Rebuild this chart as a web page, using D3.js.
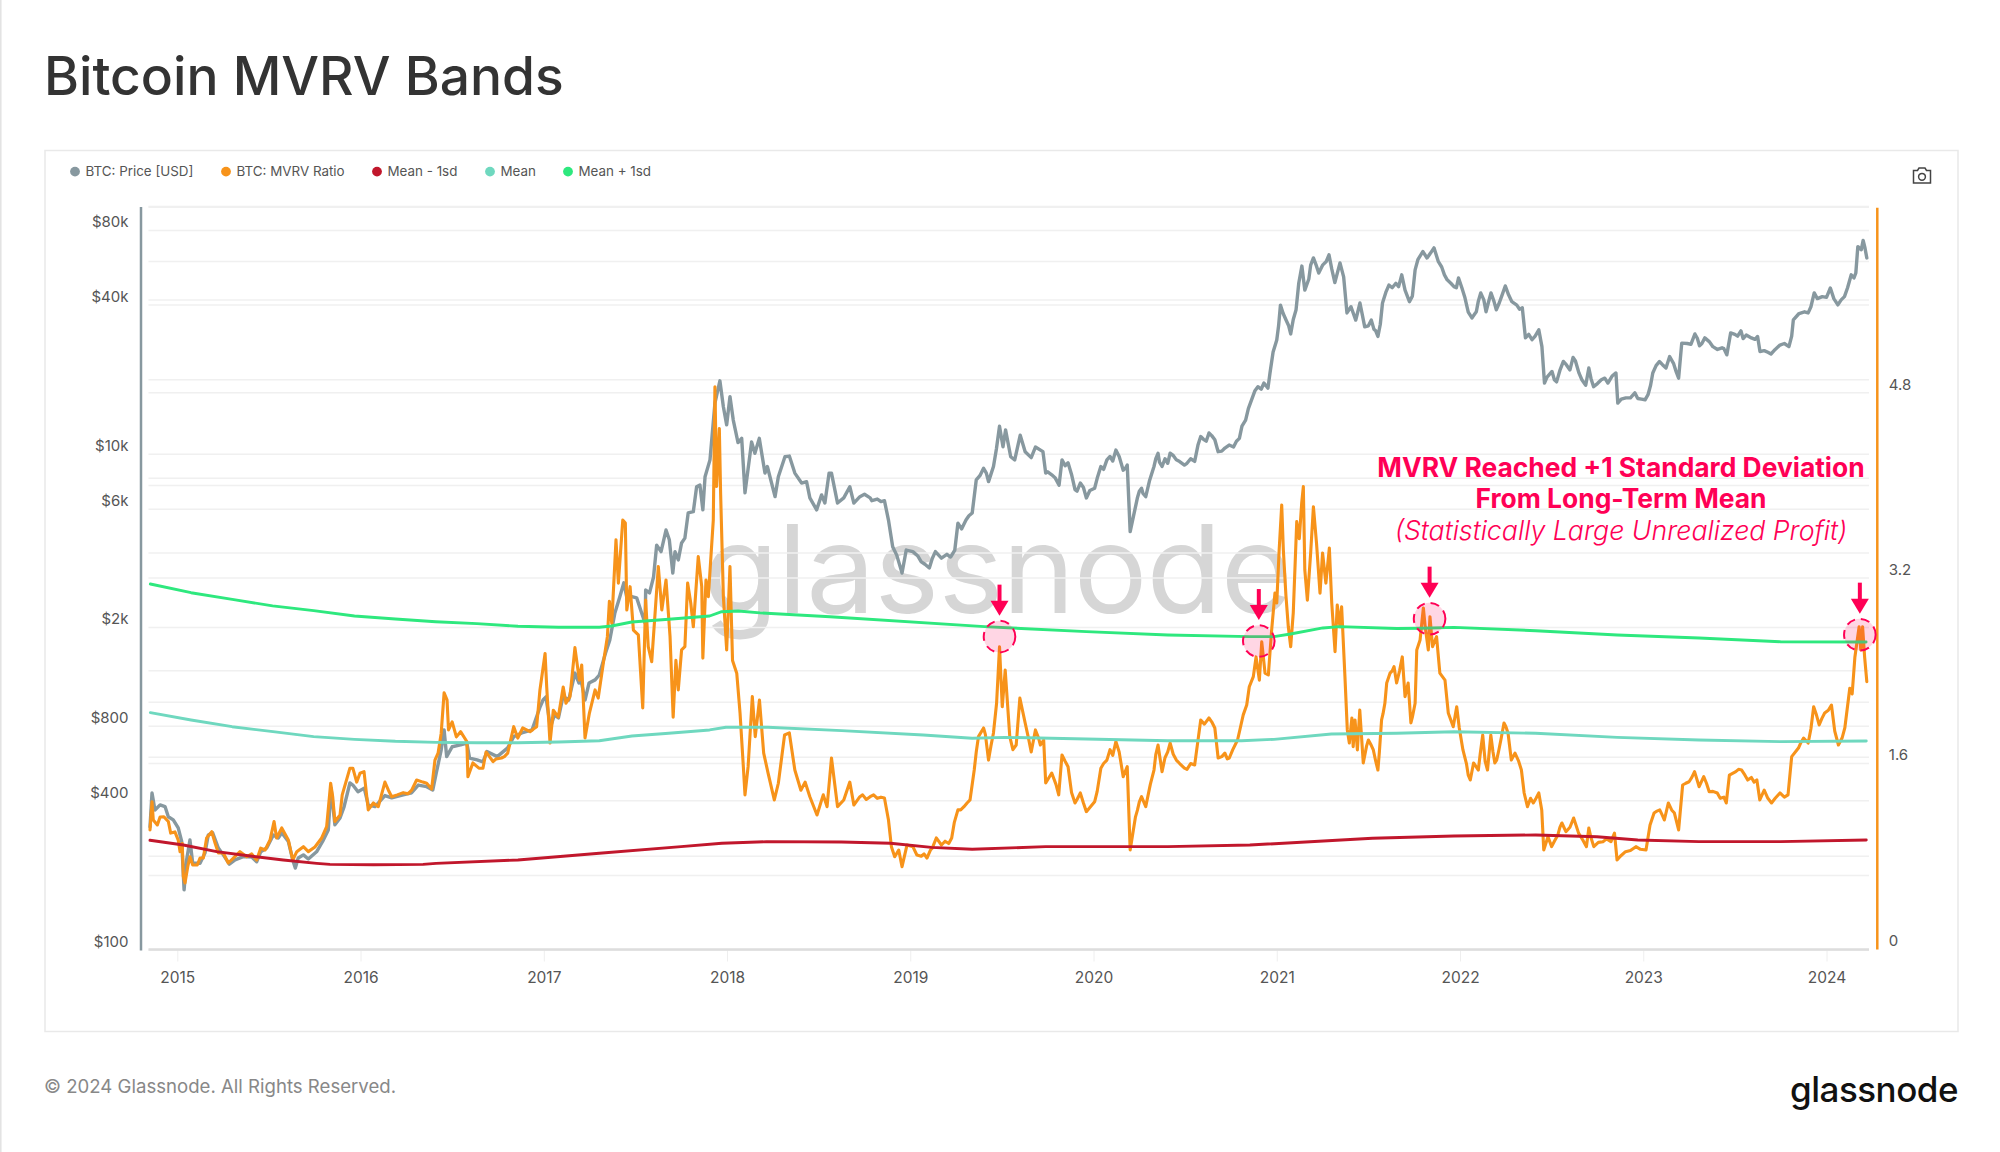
<!DOCTYPE html>
<html>
<head>
<meta charset="utf-8">
<title>Bitcoin MVRV Bands</title>
<script src="https://cdn.jsdelivr.net/npm/d3@7"></script>
<style>
html, body { margin: 0; padding: 0; background: #fff; }
svg { display: block; font-family: Inter, "Noto Sans", sans-serif; }
</style>
</head>
<body>
<svg id="chart" width="2000" height="1152"></svg>
<script>
// decimal years
var priceYears = [2014.851,2014.862,2014.878,2014.906,2014.933,2014.951,2014.978,2015.005,2015.024,2015.037,2015.051,2015.069,2015.084,2015.124,2015.151,2015.169,2015.193,2015.224,2015.251,2015.284,2015.315,2015.36,2015.406,2015.433,2015.455,2015.488,2015.524,2015.551,2015.57,2015.606,2015.63,2015.644,2015.66,2015.688,2015.715,2015.76,2015.793,2015.824,2015.839,2015.86,2015.888,2015.91,2015.942,2015.958,2015.986,2016.02,2016.042,2016.079,2016.133,2016.17,2016.233,2016.279,2016.315,2016.361,2016.394,2016.413,2016.44,2016.456,2016.47,2016.5,2016.546,2016.58,2016.595,2016.636,2016.668,2016.69,2016.746,2016.803,2016.836,2016.88,2016.936,2016.98,2016.996,2017.012,2017.036,2017.058,2017.08,2017.105,2017.136,2017.17,2017.192,2017.203,2017.225,2017.247,2017.28,2017.303,2017.337,2017.36,2017.388,2017.415,2017.437,2017.456,2017.48,2017.507,2017.534,2017.553,2017.556,2017.577,2017.599,2017.616,2017.64,2017.667,2017.685,2017.704,2017.716,2017.734,2017.752,2017.77,2017.788,2017.816,2017.834,2017.852,2017.868,2017.88,2017.907,2017.934,2017.961,2017.98,2017.998,2018.016,2018.034,2018.06,2018.08,2018.098,2018.134,2018.152,2018.176,2018.207,2018.22,2018.262,2018.28,2018.316,2018.34,2018.37,2018.407,2018.434,2018.452,2018.489,2018.516,2018.534,2018.557,2018.57,2018.603,2018.637,2018.67,2018.692,2018.725,2018.781,2018.859,2018.881,2018.904,2018.926,2018.955,2018.978,2019.014,2019.06,2019.104,2019.137,2019.17,2019.243,2019.26,2019.304,2019.338,2019.36,2019.4,2019.427,2019.454,2019.487,2019.506,2019.52,2019.548,2019.57,2019.6,2019.627,2019.66,2019.683,2019.724,2019.739,2019.772,2019.812,2019.828,2019.861,2019.899,2019.928,2019.961,2020.006,2020.04,2020.073,2020.122,2020.162,2020.184,2020.2,2020.229,2020.262,2020.285,2020.33,2020.352,2020.374,2020.418,2020.452,2020.496,2020.552,2020.585,2020.63,2020.662,2020.68,2020.717,2020.764,2020.796,2020.83,2020.862,2020.897,2020.93,2020.952,2020.963,2020.98,2021.0,2021.02,2021.05,2021.076,2021.105,2021.137,2021.153,2021.2,2021.229,2021.285,2021.317,2021.345,2021.365,2021.383,2021.405,2021.431,2021.454,2021.48,2021.516,2021.552,2021.577,2021.612,2021.682,2021.7,2021.724,2021.755,2021.797,2021.858,2021.882,2021.93,2021.967,2021.992,2022.027,2022.065,2022.089,2022.113,2022.142,2022.169,2022.198,2022.247,2022.283,2022.34,2022.357,2022.393,2022.43,2022.447,2022.461,2022.502,2022.527,2022.564,2022.617,2022.649,2022.686,2022.703,2022.729,2022.771,2022.807,2022.851,2022.861,2022.905,2022.954,2022.99,2023.026,2023.052,2023.088,2023.124,2023.144,2023.193,2023.21,2023.282,2023.307,2023.336,2023.38,2023.43,2023.456,2023.477,2023.533,2023.562,2023.624,2023.637,2023.697,2023.746,2023.795,2023.819,2023.88,2023.915,2023.933,2023.977,2024.021,2024.062,2024.098,2024.135,2024.16,2024.171,2024.2,2024.22];
var priceUsd = [314,430,367,385,379,345,335,311,274,175,231,278,224,224,246,291,297,258,242,222,231,238,237,227,249,258,291,283,297,274,231,214,235,242,233,249,274,305,450,320,341,378,472,463,435,450,385,379,420,411,423,431,463,456,442,517,641,773,603,661,672,684,595,585,574,632,603,654,726,751,773,958,1020,1050,790,888,864,1055,1020,1310,1195,1230,1020,1195,1230,1287,1580,1780,2290,2665,3030,2580,2665,2635,2290,2085,2835,2760,3200,4300,4050,4950,4520,3320,4050,3750,4390,4590,5800,5870,7400,7520,5970,8120,9500,16100,19800,15550,13150,17100,13750,11150,11600,6990,11220,10100,11600,8400,8930,6750,8120,9780,9840,8400,7660,7760,6670,5970,6860,6360,8400,8400,6360,6670,7400,6360,6750,6670,6500,5430,4240,3920,3320,4110,4050,3680,3480,4050,3810,4110,5270,5430,5800,7880,8790,7760,8930,12990,10730,12550,9780,9500,11950,10250,9700,10700,10250,8400,8270,7510,9500,9240,7200,7660,6670,7300,8930,9500,10400,8630,9050,4880,6140,7300,6750,8930,10100,8930,10100,9500,9050,9370,11800,12200,11450,10250,10600,10700,11600,13750,16550,18750,19400,18500,21300,25900,28950,40000,34900,30600,38200,57500,46000,62000,53900,63800,49300,59200,52000,37200,39400,34800,40800,32700,34800,29900,40800,48200,53000,46000,41300,55500,65800,68100,59900,50600,47500,51500,42800,35500,37600,44800,37600,44800,38300,47800,41300,39000,29500,29000,31800,27200,19400,21600,19600,23700,24600,21300,19000,22300,18750,20000,19400,21300,16100,16900,17700,16700,17400,21300,23700,22300,24800,20300,28100,30600,27400,29500,27200,26900,25200,30900,31500,30300,29900,26000,25400,27600,27200,34900,37600,39400,44800,43300,46900,40100,43300,53000,53900,68900,73000,62000];
// second pass over the picture, the smaller swings between the points above
var priceYearsFine = [2018.75,2018.79,2018.82,2018.84,2019.04,2019.08,2019.12,2019.2,2019.22,2019.28,2019.32,2019.38,2019.415,2019.44,2019.47,2019.75,2019.79,2019.845,2019.88,2019.91,2019.945,2019.98,2020.02,2020.055,2020.09,2020.105,2020.14,2020.175,2020.24,2020.25,2020.27,2020.305,2020.34,2020.36,2020.39,2020.405,2020.435,2020.47,2020.51,2020.53,2020.57,2020.6,2020.615,2020.645,2020.7,2020.74,2020.78,2020.81,2020.845,2020.88,2020.915,2021.01,2021.035,2021.065,2021.09,2021.12,2021.175,2021.185,2021.215,2021.25,2021.27,2021.3,2021.5,2021.53,2021.54,2021.565,2021.595,2021.63,2021.65,2021.665,2021.74,2021.77,2021.82,2021.84,2021.9,2021.915,2021.95,2021.98,2022.01,2022.045,2022.08,2022.1,2022.13,2022.155,2022.185,2022.215,2022.23,2022.265,2022.31,2022.325,2022.375,2022.41,2022.475,2022.515,2022.545,2022.58,2022.6,2022.63,2022.665,2022.715,2022.75,2022.79,2022.83,2022.88,2022.93,2022.97,2023.01,2023.04,2023.07,2023.105,2023.165,2023.18,2023.24,2023.26,2023.295,2023.32,2023.36,2023.405,2023.44,2023.5,2023.515,2023.545,2023.59,2023.61,2023.66,2023.68,2023.72,2023.77,2023.81,2023.85,2023.9,2023.95,2024.0,2024.04,2024.08,2024.115,2024.15,2024.19,2024.21];
var priceUsdFine = [6900,6500,6600,6450,3900,3600,3800,3950,3850,5000,5650,8200,8400,8300,10500,8500,8050,9000,8300,7100,7350,7150,8000,8700,9800,9400,9800,8800,6700,7100,6950,7800,9600,9300,9600,9200,9900,9350,9200,9600,10900,11500,11300,11900,10300,10900,11300,13000,15300,18000,18300,33000,37000,33000,35000,49000,51000,58000,58000,58000,60000,56000,33000,32000,31500,33500,45000,47000,49000,47500,43500,61000,62000,65000,57000,53000,49000,47000,47000,37500,36800,41500,42000,41000,41500,41000,44000,44000,40000,38500,30500,30000,20500,20000,21800,23000,21900,23800,20000,20200,19300,20300,20700,16700,16900,16800,16600,19000,22800,23000,23300,21500,28000,27800,29400,28000,28500,26500,26700,30500,30000,29300,29500,29100,26200,25800,26500,28000,30000,37000,37200,42500,43000,42500,42000,47000,51500,67000,68000];

var mvrvYears = [2014.851,2014.862,2014.869,2014.891,2014.906,2014.927,2014.951,2014.964,2014.987,2015.005,2015.015,2015.027,2015.033,2015.042,2015.057,2015.069,2015.084,2015.109,2015.124,2015.142,2015.16,2015.188,2015.206,2015.224,2015.251,2015.278,2015.306,2015.342,2015.379,2015.406,2015.433,2015.455,2015.479,2015.506,2015.528,2015.542,2015.57,2015.606,2015.63,2015.652,2015.688,2015.715,2015.751,2015.788,2015.815,2015.837,2015.848,2015.86,2015.888,2015.9,2015.942,2015.958,2015.979,2015.997,2016.019,2016.042,2016.07,2016.097,2016.133,2016.152,2016.17,2016.233,2016.279,2016.306,2016.361,2016.388,2016.406,2016.423,2016.44,2016.456,2016.472,2016.48,2016.5,2016.523,2016.546,2016.58,2016.586,2016.613,2016.646,2016.668,2016.685,2016.723,2016.769,2016.803,2016.836,2016.858,2016.885,2016.925,2016.961,2016.979,2017.007,2017.016,2017.034,2017.052,2017.079,2017.106,2017.121,2017.143,2017.17,2017.194,2017.207,2017.225,2017.249,2017.28,2017.297,2017.325,2017.347,2017.358,2017.371,2017.394,2017.407,2017.431,2017.445,2017.453,2017.471,2017.489,2017.516,2017.54,2017.556,2017.57,2017.589,2017.625,2017.644,2017.667,2017.689,2017.706,2017.721,2017.734,2017.752,2017.77,2017.785,2017.802,2017.816,2017.843,2017.862,2017.868,2017.885,2017.898,2017.925,2017.934,2017.943,2017.958,2017.965,2017.98,2017.998,2018.016,2018.03,2018.053,2018.071,2018.089,2018.098,2018.115,2018.138,2018.154,2018.177,2018.2,2018.224,2018.258,2018.28,2018.314,2018.34,2018.37,2018.403,2018.426,2018.452,2018.491,2018.525,2018.546,2018.57,2018.603,2018.637,2018.67,2018.692,2018.725,2018.781,2018.859,2018.881,2018.897,2018.915,2018.937,2018.955,2018.982,2019.014,2019.036,2019.091,2019.11,2019.142,2019.17,2019.226,2019.26,2019.293,2019.326,2019.349,2019.372,2019.4,2019.427,2019.454,2019.471,2019.487,2019.502,2019.518,2019.543,2019.578,2019.598,2019.627,2019.66,2019.683,2019.728,2019.739,2019.772,2019.81,2019.828,2019.861,2019.899,2019.928,2019.961,2020.006,2020.04,2020.073,2020.122,2020.162,2020.184,2020.2,2020.229,2020.262,2020.285,2020.33,2020.352,2020.374,2020.418,2020.452,2020.496,2020.552,2020.585,2020.63,2020.662,2020.68,2020.717,2020.741,2020.786,2020.817,2020.836,2020.85,2020.872,2020.887,2020.905,2020.918,2020.936,2020.954,2020.972,2020.99,2021.0,2021.013,2021.027,2021.036,2021.05,2021.063,2021.076,2021.09,2021.109,2021.123,2021.136,2021.145,2021.153,2021.167,2021.185,2021.2,2021.217,2021.236,2021.25,2021.268,2021.287,2021.3,2021.318,2021.33,2021.345,2021.354,2021.372,2021.385,2021.396,2021.41,2021.417,2021.427,2021.44,2021.453,2021.472,2021.5,2021.527,2021.552,2021.572,2021.59,2021.6,2021.618,2021.64,2021.654,2021.685,2021.7,2021.717,2021.732,2021.755,2021.764,2021.782,2021.8,2021.81,2021.827,2021.836,2021.85,2021.872,2021.89,2021.918,2021.936,2021.963,2021.982,2021.996,2022.016,2022.056,2022.074,2022.1,2022.124,2022.15,2022.168,2022.19,2022.212,2022.24,2022.262,2022.28,2022.3,2022.335,2022.35,2022.368,2022.4,2022.43,2022.446,2022.457,2022.48,2022.5,2022.534,2022.556,2022.578,2022.62,2022.647,2022.69,2022.703,2022.73,2022.78,2022.824,2022.843,2022.857,2022.903,2022.96,2023.015,2023.037,2023.059,2023.09,2023.115,2023.137,2023.17,2023.193,2023.215,2023.25,2023.28,2023.305,2023.33,2023.36,2023.404,2023.453,2023.47,2023.505,2023.537,2023.57,2023.62,2023.636,2023.66,2023.7,2023.746,2023.79,2023.81,2023.847,2023.875,2023.9,2023.93,2023.96,2023.99,2024.027,2024.065,2024.1,2024.127,2024.155,2024.178,2024.187,2024.197,2024.208,2024.22];
var mvrvRatio = [1.027,1.27,1.113,1.07,1.139,1.14,1.10,1.0,1.01,.94,.84,.91,.624,.57,.71,.796,.725,.725,.785,.785,.958,1.012,.914,.828,.828,.742,.785,.84,.796,.82,.768,.87,.854,.94,1.10,.958,1.044,.94,.768,.84,.883,.84,.88,.958,1.055,1.43,1.314,1.1,1.156,1.33,1.56,1.56,1.44,1.516,1.53,1.2,1.26,1.228,1.44,1.37,1.314,1.349,1.37,1.458,1.43,1.38,1.63,1.69,1.86,2.21,2.15,1.89,1.96,1.83,1.875,1.79,1.487,1.605,1.56,1.56,1.70,1.616,1.648,1.69,1.918,1.82,1.907,1.875,1.918,2.235,2.55,2.26,1.777,2.06,2.0,2.26,2.12,2.177,2.6,2.32,2.45,1.82,2.036,2.235,2.165,2.467,2.695,3.0,2.81,3.53,3.157,3.70,3.675,2.925,3.126,2.752,2.71,2.08,3.01,2.608,2.479,3.3,2.925,3.184,2.695,2.0,2.49,2.235,2.58,2.608,3.157,2.985,2.78,3.385,3.126,2.51,3.184,3.04,3.7,4.85,3.99,4.49,3.93,3.04,2.58,3.3,2.49,2.38,2.036,1.573,1.33,1.573,2.177,1.832,2.148,1.69,1.518,1.286,1.43,1.846,1.864,1.544,1.37,1.44,1.314,1.156,1.33,1.228,1.648,1.228,1.286,1.44,1.242,1.314,1.314,1.303,1.113,.883,.796,.854,.71,.897,.883,.811,.785,.854,.958,.897,.958,1.2,1.228,1.286,1.544,1.832,1.907,1.63,1.864,2.12,2.608,2.09,2.407,1.832,1.76,2.165,1.95,1.70,1.89,1.803,1.432,1.518,1.33,1.674,1.573,1.26,1.346,1.185,1.27,1.56,1.63,1.79,1.487,1.573,.854,1.14,1.314,1.228,1.544,1.76,1.53,1.777,1.63,1.56,1.588,1.976,1.993,1.907,1.648,1.69,1.648,1.803,2.02,2.105,2.263,2.35,2.52,2.32,2.65,2.38,2.364,2.75,3.07,2.985,3.44,3.83,3.44,3.05,2.78,2.608,2.9,3.687,3.54,3.847,3.99,3.27,3.01,3.417,3.816,3.5,3.07,3.417,3.157,3.46,2.985,2.565,2.968,2.78,2.953,2.35,1.89,1.777,1.993,1.745,1.976,1.717,2.062,1.605,1.803,1.717,1.544,1.976,2.12,2.295,2.38,2.436,2.295,2.52,2.177,2.295,1.95,2.12,2.58,2.666,2.942,2.78,2.58,2.867,2.608,2.695,2.38,2.32,2.036,1.918,2.09,1.907,1.717,1.458,1.605,1.544,1.846,1.544,1.846,1.605,1.717,1.95,1.864,1.63,1.69,1.544,1.346,1.228,1.26,1.346,1.2,.854,.969,.883,.984,1.087,1.012,1.13,1.0,.883,1.044,.883,.926,.926,1.0,.768,.84,.883,.854,1.07,1.173,1.2,1.113,1.26,1.173,1.027,1.415,1.443,1.53,1.4,1.487,1.357,1.346,1.26,1.5,1.53,1.544,1.458,1.458,1.286,1.37,1.26,1.346,1.33,1.66,1.734,1.82,1.777,2.09,1.933,2.036,2.105,1.76,1.907,2.25,2.52,2.78,2.58,2.78,2.52,2.306];
var mvrvYearsFine = [2016.2,2016.26,2016.34,2016.74,2016.785,2016.945,2018.74,2018.76,2018.8,2018.82,2018.84,2019.06,2019.075,2019.12,2019.19,2019.21,2019.24,2019.275,2019.31,2019.36,2019.41,2019.44,2019.56,2019.645,2019.7,2019.71,2019.795,2019.845,2019.88,2019.91,2019.945,2019.98,2020.02,2020.055,2020.09,2020.105,2020.14,2020.24,2020.25,2020.31,2020.34,2020.39,2020.405,2020.435,2020.47,2020.51,2020.53,2020.57,2020.605,2020.645,2020.7,2020.73,2020.76,2020.8,2021.49,2021.515,2021.54,2021.56,2021.58,2021.63,2021.67,2021.74,2022.035,2022.045,2022.085,2022.11,2022.137,2022.18,2022.2,2022.225,2022.25,2022.32,2022.385,2022.415,2022.515,2022.545,2022.6,2022.635,2022.67,2022.715,2022.755,2022.8,2022.875,2022.93,2022.985,2023.075,2023.105,2023.155,2023.232,2023.265,2023.345,2023.38,2023.42,2023.44,2023.52,2023.555,2023.59,2023.605,2023.68,2023.72,2023.77,2023.86,2023.915,2023.945,2023.975,2024.01,2024.045,2024.085,2024.14];
var mvrvRatioFine = [1.33,1.34,1.44,1.64,1.66,1.9,1.33,1.29,1.33,1.3,1.31,.80,.82,.87,.93,.91,1.09,1.2,1.26,1.7,1.85,1.75,1.72,1.82,1.82,1.76,1.42,1.62,1.35,1.29,1.26,1.22,1.36,1.6,1.72,1.67,1.7,1.2,1.27,1.42,1.68,1.65,1.7,1.68,1.6,1.55,1.6,1.8,1.94,1.96,1.66,1.64,1.72,1.9,1.75,1.76,1.62,1.7,2.03,2.4,2.4,2.0,1.6,1.5,1.58,1.68,1.62,1.7,1.63,1.82,1.92,1.62,1.3,1.3,.93,1.05,1.05,1.06,.94,.96,.92,.95,.8,.85,.86,1.19,1.15,1.2,1.43,1.48,1.43,1.36,1.3,1.31,1.55,1.5,1.48,1.44,1.3,1.3,1.31,1.78,1.9,2.02,1.99,2.06,1.88,1.82,2.2];

var lowerYears = [2014.851,2015.033,2015.215,2015.397,2015.578,2015.761,2015.833,2016.07,2016.341,2016.412,2016.859,2017.303,2017.749,2017.972,2018.216,2018.625,2018.892,2019.115,2019.338,2019.739,2020.406,2020.853,2021.522,2021.967,2022.413,2022.747,2022.97,2023.304,2023.749,2024.217];
var lowerBand = [.938,.897,.84,.802,.768,.739,.73,.727,.73,.739,.768,.826,.883,.912,.926,.923,.912,.877,.86,.883,.883,.897,.955,.975,.984,.969,.94,.926,.926,.94];

var meanYears = [2014.853,2015.075,2015.299,2015.522,2015.744,2015.967,2016.19,2016.412,2016.635,2016.859,2017.081,2017.303,2017.481,2017.682,2017.905,2017.994,2018.222,2018.625,2019.071,2019.338,2019.517,2019.961,2020.406,2020.808,2020.985,2021.298,2021.654,2021.967,2022.413,2022.858,2023.304,2023.749,2024.217];
var meanBand = [2.039,1.976,1.918,1.875,1.832,1.809,1.792,1.783,1.78,1.78,1.786,1.797,1.838,1.861,1.89,1.913,1.913,1.884,1.846,1.818,1.826,1.812,1.797,1.797,1.809,1.855,1.861,1.875,1.861,1.826,1.803,1.789,1.795];

var upperYears = [2014.853,2015.075,2015.3,2015.52,2015.744,2015.967,2016.19,2016.41,2016.635,2016.859,2017.08,2017.303,2017.37,2017.48,2017.682,2017.905,2017.971,2018.06,2018.18,2018.562,2019.405,2019.961,2020.406,2020.853,2020.985,2021.075,2021.252,2021.342,2021.654,2021.789,2021.967,2022.413,2022.858,2023.305,2023.749,2024.216];
var upperBand = [3.149,3.074,3.017,2.96,2.919,2.873,2.847,2.824,2.807,2.784,2.776,2.776,2.787,2.821,2.845,2.873,2.91,2.916,2.9,2.867,2.781,2.738,2.709,2.695,2.695,2.718,2.77,2.781,2.765,2.767,2.775,2.746,2.709,2.683,2.651,2.649];

var peakYears = [2019.487,2020.902,2021.834,2024.182];
var peakRatio = [2.695,2.657,2.85,2.712];

var yearTicks = [2015,2016,2017,2018,2019,2020,2021,2022,2023,2024];
var priceGrid = [100,200,400,600,800,1000,2000,4000,6000,8000,10000,20000,40000,60000,80000,100000];
var priceTicks = [100,400,800,2000,6000,10000,40000,80000];
var ratioGrid = [0,0.8,1.6,2.4,3.2,4,4.8,5.6,6.4];
var ratioTicks = [0,1.6,3.2,4.8];

var legendNames = ["BTC: Price [USD]","BTC: MVRV Ratio","Mean - 1sd","Mean","Mean + 1sd"];
var legendColors = ["#87989f","#f7931a","#c1172c","#6fd8bf","#2ee87e"];
var legendDotX = [75,226,377,490,568];
var noteLines = ["MVRV Reached +1 Standard Deviation","From Long-Term Mean","(Statistically Large Unrealized Profit)"];

var accent = "#ff0055";
var svg = d3.select("#chart");

var x = d3.scaleLinear().domain([2015,2024]).range([177.3,1826.5]);
var yPrice = d3.scaleLog().domain([100,100000]).range([950,206.5]);
var yRatio = d3.scaleLinear().domain([0,6.4]).range([949,207.2]);

// page frame and panel
svg.append("line").attr("x1",0.8).attr("x2",0.8).attr("y1",0).attr("y2",1152).attr("stroke","#e2e2e2").attr("stroke-width",1.5);
svg.append("rect").attr("x",45).attr("y",150.5).attr("width",1913).attr("height",881)
  .attr("fill","#fff").attr("stroke","#e9e9e9").attr("stroke-width",1.5);

svg.append("text").text("Bitcoin MVRV Bands").attr("x",44).attr("y",95)
  .attr("font-size",53.3).attr("font-weight",500).attr("fill","#333");

// legend
var legend = svg.append("g");
legendNames.forEach(function(name,i) {
  legend.append("circle").attr("cx",legendDotX[i]).attr("cy",171.6).attr("r",4.9).attr("fill",legendColors[i]);
  legend.append("text").text(name).attr("x",legendDotX[i]+10.5).attr("y",176.4)
    .attr("font-size",13.4).attr("fill","#555");
});

// camera icon
var cam = svg.append("g").attr("fill","none").attr("stroke","#444").attr("stroke-width",1.5);
cam.append("path").attr("d","M1913.5 170.5h4l1.5-2.5h6l1.5 2.5h4v12.5h-17z");
cam.append("circle").attr("cx",1922).attr("cy",176.8).attr("r",3.4);

// watermark goes under everything
svg.append("text").text("glassnode").attr("x",703).attr("y",613)
  .attr("font-size",123).attr("font-weight",400).attr("fill","#d6d6d6")
  .attr("font-family","Inter, sans-serif").attr("letter-spacing",-1);

// gridlines, both axes keep their own
var grid = svg.append("g").attr("stroke","#f0f0f0").attr("stroke-width",1.5);
priceGrid.forEach(function(v) {
  grid.append("line").attr("x1",148.5).attr("x2",1869).attr("y1",yPrice(v)).attr("y2",yPrice(v));
});
ratioGrid.forEach(function(v) {
  if (v==0) return;
  grid.append("line").attr("x1",148.5).attr("x2",1869).attr("y1",yRatio(v)).attr("y2",yRatio(v));
});

// x axis
var xAxis = svg.append("g").attr("transform","translate(0,949.5)")
  .call(d3.axisBottom(x).tickValues(yearTicks).tickFormat(d3.format("d")).tickSize(12).tickPadding(10.5));
xAxis.select(".domain").remove();
xAxis.selectAll("line").attr("stroke","#eee").attr("stroke-width",1);
xAxis.selectAll("text").attr("font-size",15.5).attr("fill","#555").attr("font-family","Inter, sans-serif");
svg.append("line").attr("x1",148.5).attr("x2",1869).attr("y1",949.5).attr("y2",949.5).attr("stroke","#ddd").attr("stroke-width",2.5);

// left axis
var priceAxis = svg.append("g").attr("transform","translate(140.5,0)")
  .call(d3.axisLeft(yPrice).tickValues(priceTicks).tickSize(0).tickPadding(12).tickFormat(function(d) {
    return d>=1000 ? "$"+(d/1000)+"k" : "$"+d;
  }));
priceAxis.select(".domain").attr("stroke","#87989f").attr("stroke-width",2.5);
priceAxis.selectAll("text").attr("dy",-3.6).attr("font-size",15).attr("fill","#555").attr("font-family","Inter, sans-serif");

// right axis
var ratioAxis = svg.append("g").attr("transform","translate(1876.8,0)")
  .call(d3.axisRight(yRatio).tickValues(ratioTicks).tickSize(0).tickPadding(12).tickFormat(function(d) { return d; }));
ratioAxis.select(".domain").attr("stroke","#f7931a").attr("stroke-width",2.5);
ratioAxis.selectAll("text").attr("dy",-3.6).attr("font-size",15).attr("fill","#555").attr("font-family","Inter, sans-serif");

function mergeFine(years,values,fineYears,fineValues) {
  var rows = years.map(function(t,i) { return [t,values[i]]; })
    .concat(fineYears.map(function(t,i) { return [t,fineValues[i]]; }));
  rows.sort(function(a,b) { return d3.ascending(a[0],b[0]); });
  return rows;
}

// series, same stacking as the source: price lowest, bands on top
function drawLine(rows,yScale,color,width) {
  var line = d3.line()
    .x(function(d) { return x(d[0]); })
    .y(function(d) { return yScale(d[1]); });
  svg.append("path").attr("d",line(rows)).attr("fill","none").attr("stroke",color)
    .attr("stroke-width",width).attr("stroke-linejoin","round").attr("stroke-linecap","round");
}
function bandRows(years,values) { return mergeFine(years,values,[],[]); }

drawLine(mergeFine(priceYears,priceUsd,priceYearsFine,priceUsdFine),yPrice,"#87989f",3.4);
drawLine(mergeFine(mvrvYears,mvrvRatio,mvrvYearsFine,mvrvRatioFine),yRatio,"#f7931a",3.1);
drawLine(bandRows(lowerYears,lowerBand),yRatio,"#c1172c",2.9);
drawLine(bandRows(meanYears,meanBand),yRatio,"#6fd8bf",2.9);
drawLine(bandRows(upperYears,upperBand),yRatio,"#2ee87e",2.9);

// peak markers
peakYears.forEach(function(t,i) {
  var cx = x(t), cy = yRatio(peakRatio[i]);
  svg.append("circle").attr("cx",cx).attr("cy",cy).attr("r",15.8)
    .attr("fill",accent).attr("fill-opacity",0.16).attr("stroke",accent)
    .attr("stroke-width",2).attr("stroke-dasharray","9 6");
  svg.append("line").attr("x1",cx).attr("x2",cx).attr("y1",cy-52).attr("y2",cy-34)
    .attr("stroke",accent).attr("stroke-width",4);
  svg.append("path").attr("d",d3.line()([[cx-9,cy-36],[cx+9,cy-36],[cx,cy-21]]))
    .attr("fill",accent);
});

// annotation
var note = svg.append("g").attr("text-anchor","middle").attr("fill",accent);
note.append("text").text(noteLines[0]).attr("x",1621).attr("y",476.5).attr("font-size",26.4).attr("font-weight",700);
note.append("text").text(noteLines[1]).attr("x",1621).attr("y",508).attr("font-size",26.4).attr("font-weight",700);
note.append("text").text(noteLines[2]).attr("x",1621).attr("y",539.5).attr("font-size",26.7).attr("font-weight",300).attr("font-style","italic");

// footer
svg.append("text").text("\u00a9 2024 Glassnode. All Rights Reserved.").attr("x",44).attr("y",1092.5)
  .attr("font-size",18.6).attr("fill","#888");
svg.append("text").text("glassnode").attr("x",1958).attr("y",1102).attr("text-anchor","end")
  .attr("font-size",35).attr("font-weight",500).attr("fill","#111").attr("letter-spacing",-0.5);
</script>
</body>
</html>
